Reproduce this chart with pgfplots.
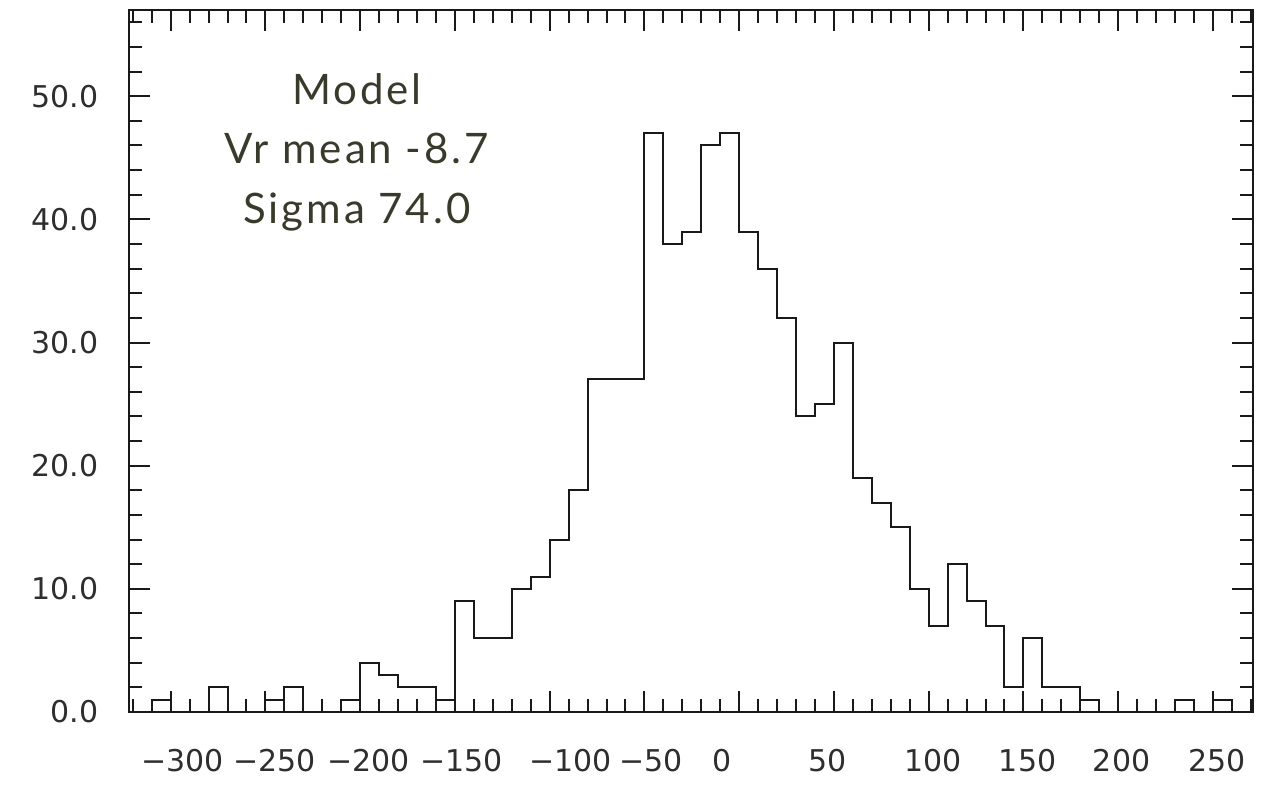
\documentclass[border=0pt]{standalone}
\usepackage{pgfplots}
\pgfplotsset{compat=1.18}
\usepackage{fontspec}
\newfontfamily\tickfont{DejaVu Sans}
\newfontfamily\notefont[LetterSpace=7]{Lato}
\definecolor{ticktext}{HTML}{2E2E2E}
\definecolor{notetext}{HTML}{3A3A2C}

\begin{document}
\begin{tikzpicture}
\begin{axis}[
  name=ax, at={(0,0)}, anchor=south west,
  scale only axis, width=561.85pt, height=351pt,
  xmin=-322, xmax=271, ymin=0, ymax=57,
  axis line style={line width=1.2pt, black!90},
  every tick/.style={line width=1pt, black!90},
  major tick length=10.5pt, minor tick length=6.5pt,
  tick align=inside, xtick pos=both, ytick pos=both,
  xticklabel pos=lower, yticklabel pos=left,
  xtick={-300,-250,...,250}, xticklabels={,,,,,,,,,,,},
  minor xtick={-320,-310,...,270},
  extra x ticks={-293.7,-245.1,-195.5,-146.4,-89.0,-46.5,-9.2,46.7,102.1,152.2,201.8,252.0},
  extra x tick labels={−300,−250,−200,−150,−100,−50,0,50,100,150,200,250},
  extra x tick style={major tick length=0pt},
  ytick={0,10,...,50}, yticklabels={0.0,10.0,20.0,30.0,40.0,50.0},
  minor ytick={2,4,...,56},
  ticklabel style={font=\tickfont\fontsize{15}{18}\selectfont, text=ticktext},
  xticklabel shift=15pt, yticklabel shift=11.8pt,
]
% velocity histogram, 10-unit bins given by their left edges
\addplot[const plot, line width=1pt, black!90] coordinates {
  (-320,0) (-310,1) (-300,0) (-290,0) (-280,2) (-270,0) (-260,0) (-250,1)
  (-240,2) (-230,0) (-220,0) (-210,1) (-200,4) (-190,3) (-180,2) (-170,2)
  (-160,1) (-150,9) (-140,6) (-130,6) (-120,10) (-110,11) (-100,14) (-90,18)
  (-80,27) (-70,27) (-60,27) (-50,47) (-40,38) (-30,39) (-20,46) (-10,47)
  (0,39) (10,36) (20,32) (30,24) (40,25) (50,30) (60,19) (70,17)
  (80,15) (90,10) (100,7) (110,12) (120,9) (130,7) (140,2) (150,6)
  (160,2) (170,2) (180,1) (190,0) (200,0) (210,0) (220,0) (230,1)
  (240,0) (250,1) (260,0) (270,0)
};
\node[anchor=base, font=\notefont\fontsize{21}{25}\selectfont, text=notetext]
  at (axis cs:-201.8,49.34) {Model};
\node[anchor=base, font=\notefont\fontsize{21}{25}\selectfont, text=notetext]
  at (axis cs:-201.8,44.5) {Vr mean -8.7};
\node[anchor=base, font=\notefont\fontsize{21}{25}\selectfont, text=notetext]
  at (axis cs:-201.8,39.7) {Sigma 74.0};
\end{axis}
\pgfresetboundingbox
\path ([shift={(-64.5pt,-36.65pt)}]ax.south west) rectangle ([shift={(11.65pt,5pt)}]ax.north east);
\end{tikzpicture}
\end{document}
